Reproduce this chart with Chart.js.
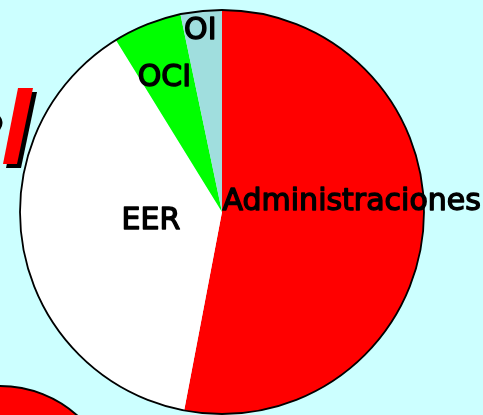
<!DOCTYPE html>
<html>
<head>
<meta charset="utf-8">
<script src="https://cdn.jsdelivr.net/npm/chart.js@4"></script>
<style>
  body { margin: 0; background: #ccffff; overflow: hidden; }
</style>
</head>
<body>
<canvas id="grafico" width="483" height="415"></canvas>
<script>
// Dados do gráfico
var categorias = ['Administraciones', 'EER', 'OCI', 'OI'];
var valores = [53, 38.2, 5.5, 3.3];
var cores = ['#ff0000', '#ffffff', '#00ff00', '#a0dede'];

// onde cada rótulo fica: fração do raio e desvio (graus) do ângulo médio
var posRotulos = [
  { r: 0.645, dAng: -10.9 },
  { r: 0.353, dAng: 5.5 },
  { r: 0.737, dAng: -1 },
  { r: 0.917, dAng: -0.8 }
];

// fundo e enfeites do slide
var enfeites = {
  id: 'enfeites',
  beforeDraw: function (chart) {
    var c = chart.ctx;
    c.save();
    c.fillStyle = '#ccffff';
    c.fillRect(0, 0, chart.width, chart.height);
    c.restore();
  },
  beforeDatasetsDraw: function (chart) {
    var c = chart.ctx;
    c.save();
    // barra vermelha com sombra
    c.fillStyle = '#000000';
    c.beginPath();
    c.moveTo(22, 92); c.lineTo(37, 92); c.lineTo(21, 168); c.lineTo(6, 168);
    c.closePath(); c.fill();
    c.fillStyle = '#ff0000';
    c.beginPath();
    c.moveTo(18, 88); c.lineTo(33, 88); c.lineTo(17, 164); c.lineTo(3, 164);
    c.closePath(); c.fill();
    // pedaço de letra na borda
    c.strokeStyle = '#000000';
    c.lineWidth = 3;
    c.beginPath();
    c.arc(-8, 123, 9, -0.9, 0.9);
    c.stroke();
    // círculo vermelho no canto
    c.fillStyle = '#ff0000';
    c.lineWidth = 2;
    c.beginPath();
    c.arc(0, 502, 116, 0, Math.PI * 2);
    c.fill(); c.stroke();
    c.restore();
  },
  afterDatasetsDraw: function (chart) {
    var c = chart.ctx;
    var arcs = chart.getDatasetMeta(0).data;
    var a0 = arcs[0];
    c.save();
    // contorno externo da pizza
    c.strokeStyle = '#000000';
    c.lineWidth = 1.8;
    c.beginPath();
    c.arc(a0.x, a0.y, a0.outerRadius, 0, Math.PI * 2);
    c.stroke();
    // rótulos
    c.font = '30px "DejaVu Sans"';
    c.fillStyle = '#000000';
    c.strokeStyle = '#000000';
    c.lineWidth = 1.4;
    c.lineJoin = 'round';
    c.textAlign = 'center';
    c.textBaseline = 'middle';
    arcs.forEach(function (arc, i) {
      var meio = (arc.startAngle + arc.endAngle) / 2 + posRotulos[i].dAng * Math.PI / 180;
      var r = arc.outerRadius * posRotulos[i].r;
      var x = arc.x + Math.cos(meio) * r;
      var y = arc.y + Math.sin(meio) * r + 3;
      c.fillText(categorias[i], x, y);
      c.strokeText(categorias[i], x, y);
    });
    c.restore();
  }
};

var ctx = document.getElementById('grafico').getContext('2d');
var grafico = new Chart(ctx, {
  type: 'pie',
  data: {
    labels: categorias,
    datasets: [{
      data: valores,
      backgroundColor: cores,
      borderWidth: 0
    }]
  },
  options: {
    responsive: false,
    animation: false,
    layout: { padding: { left: 20, right: 59, top: 10, bottom: 1 } },
    plugins: {
      legend: { display: false },
      tooltip: { enabled: false }
    }
  },
  plugins: [enfeites]
});
</script>
</body>
</html>
